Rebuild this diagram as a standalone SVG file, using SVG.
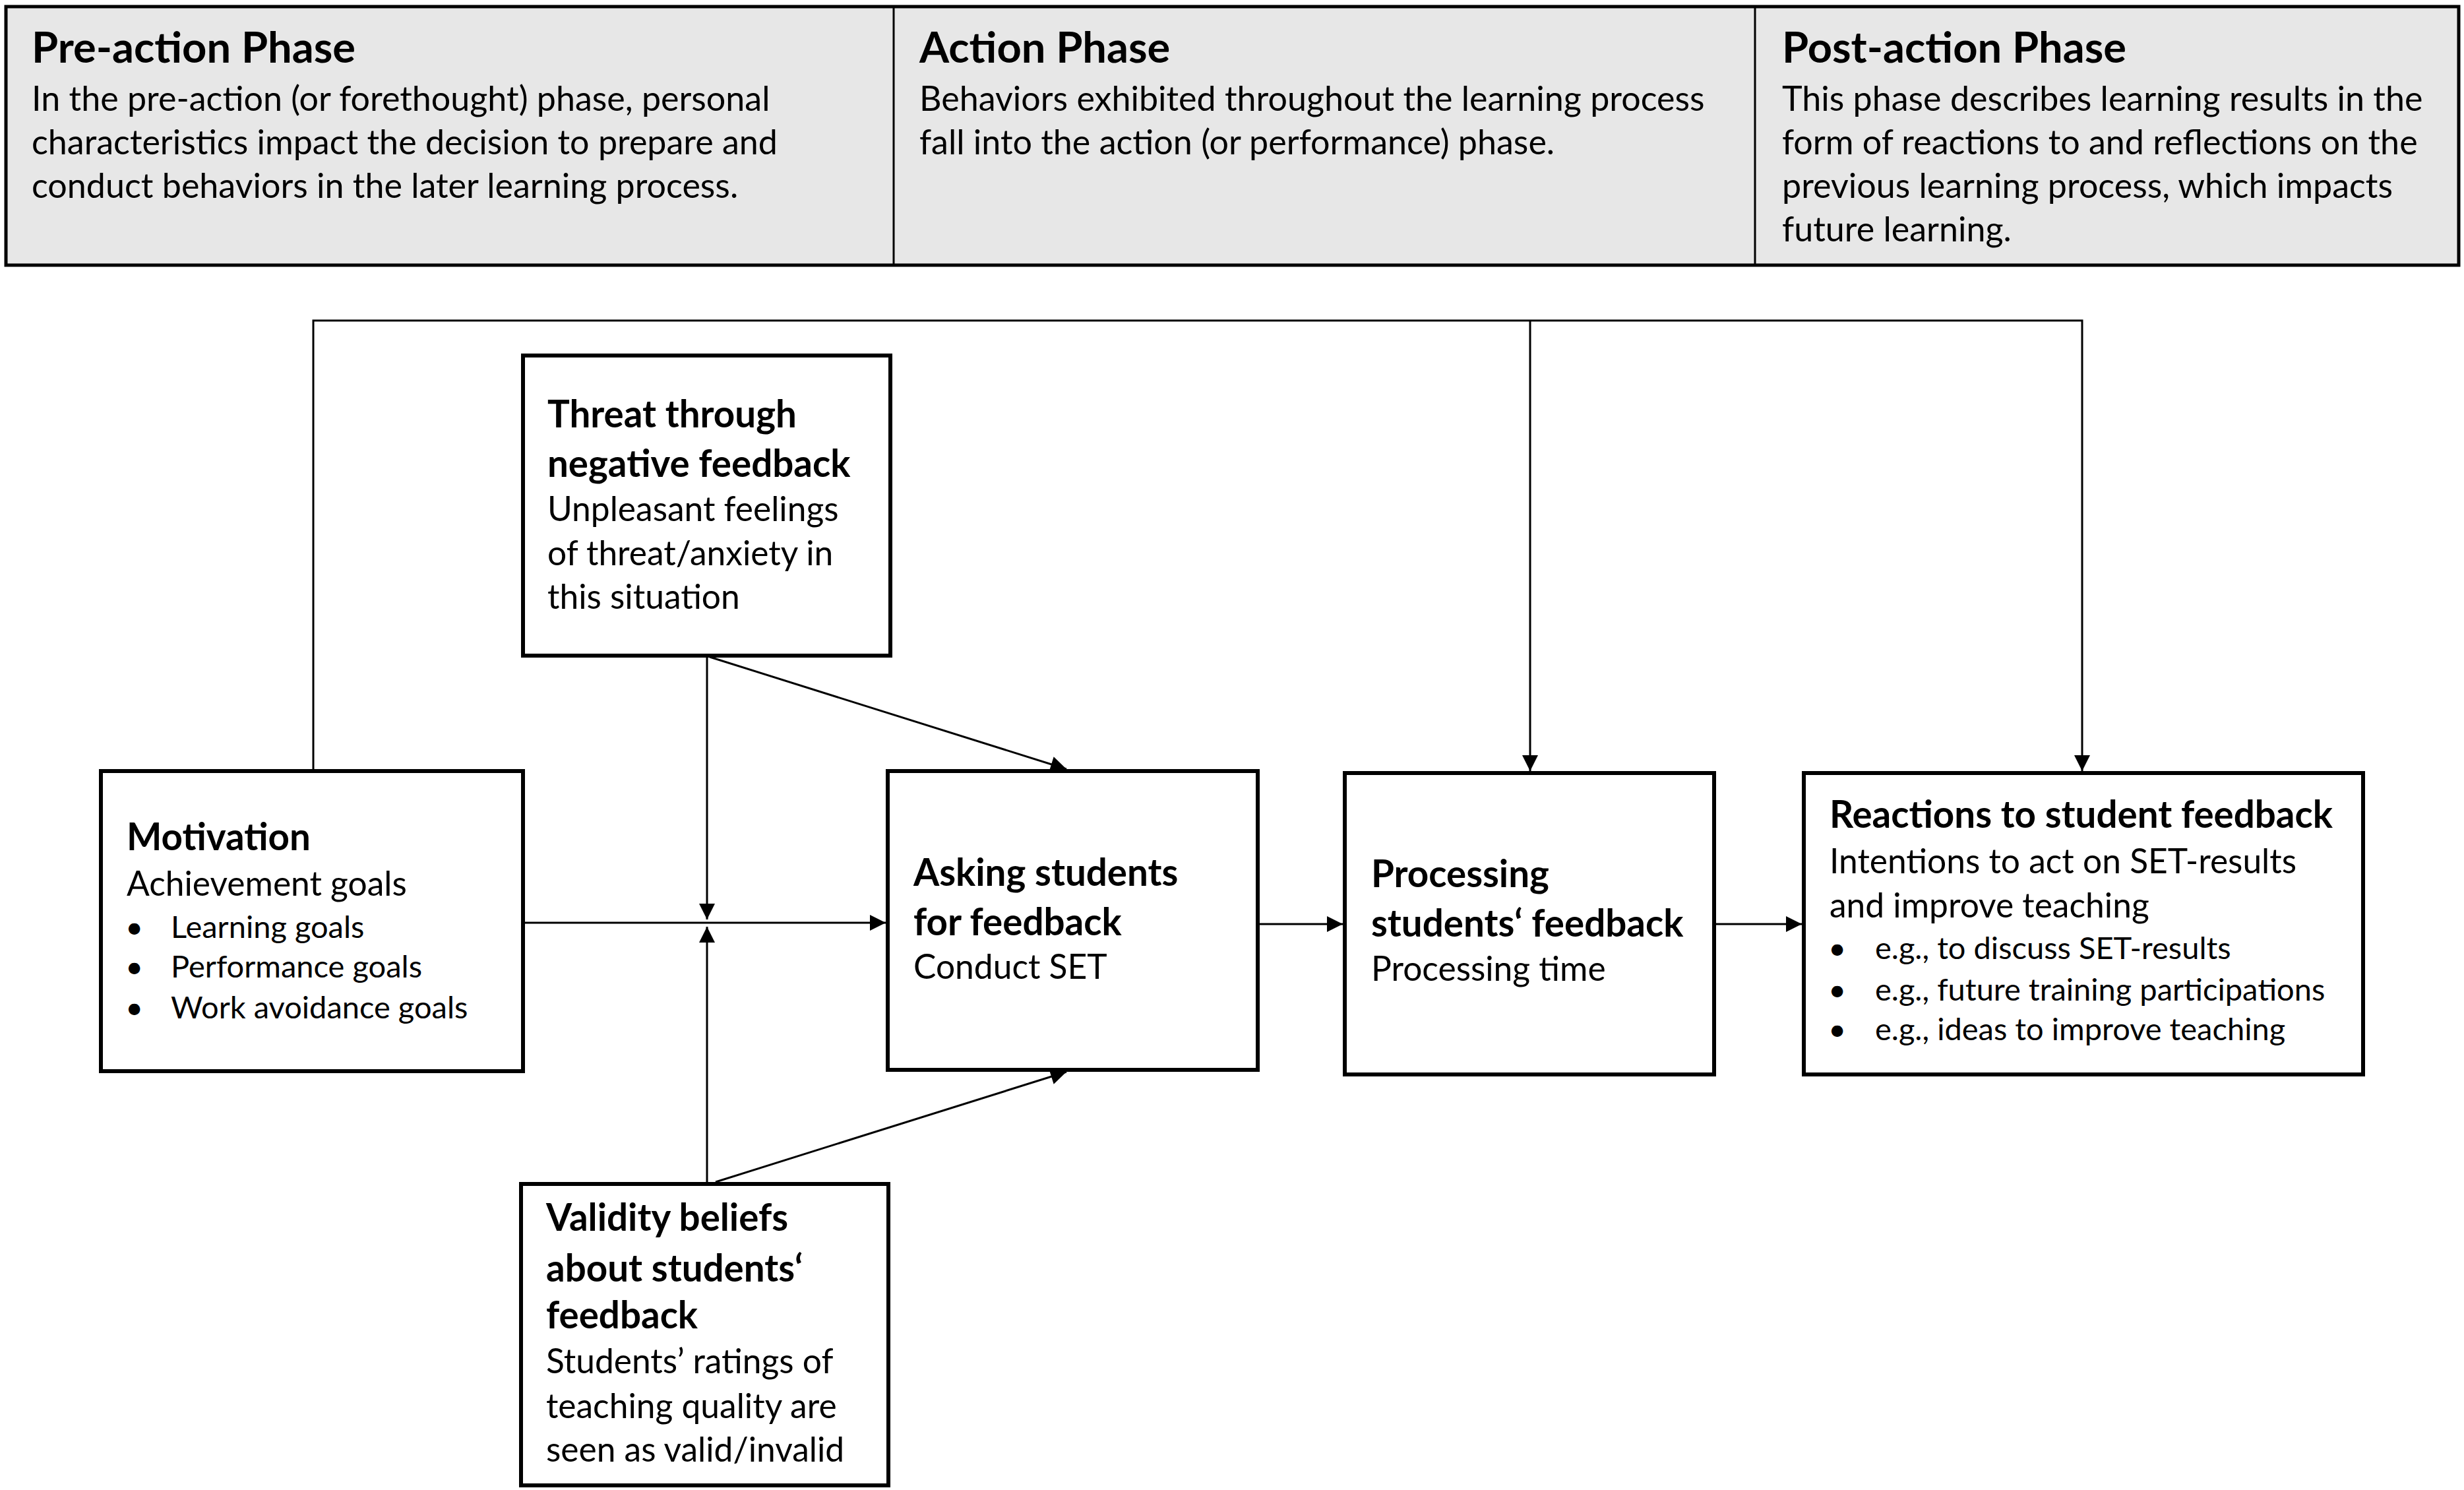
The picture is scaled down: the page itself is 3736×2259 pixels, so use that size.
<svg xmlns="http://www.w3.org/2000/svg" width="3736" height="2259" viewBox="0 0 3736 2259">
<style>
text { font-family: Lato, "Carlito", "Open Sans", sans-serif; fill: #000; }
.hh { font-size: 65px; font-weight: bold; }
.hb { font-size: 52px; }
.nt { font-size: 56.5px; font-weight: bold; }
.nb { font-size: 51.5px; }
.bl { font-size: 47px; }
.box { fill: #fff; stroke: #000; stroke-width: 6; }
.conn { fill: none; stroke: #000; stroke-width: 3; }
</style>
<defs>
<marker id="arr" viewBox="0 0 10 10" refX="10" refY="5" markerUnits="userSpaceOnUse" markerWidth="28" markerHeight="24" orient="auto">
<path d="M0,0 L10,5 L0,10 z" fill="#000"/>
</marker>
</defs>
<rect width="3736" height="2259" fill="#fff"/>
<g id="header">
<rect x="9" y="10" width="3719" height="392" fill="#e7e7e7" stroke="#000" stroke-width="5"/>
<line x1="1355" y1="10" x2="1355" y2="402" stroke="#000" stroke-width="3"/>
<line x1="2661" y1="10" x2="2661" y2="402" stroke="#000" stroke-width="3"/>
<text class="hh" x="48" y="95">Pre-action Phase</text>
<text class="hb" x="48" y="168">In the pre-action (or forethought) phase, personal</text>
<text class="hb" x="48" y="234">characteristics impact the decision to prepare and</text>
<text class="hb" x="48" y="300">conduct behaviors in the later learning process.</text>
<text class="hh" x="1394" y="95">Action Phase</text>
<text class="hb" x="1394" y="168">Behaviors exhibited throughout the learning process</text>
<text class="hb" x="1394" y="234">fall into the action (or performance) phase.</text>
<text class="hh" x="2702" y="95">Post-action Phase</text>
<text class="hb" x="2702" y="168">This phase describes learning results in the</text>
<text class="hb" x="2702" y="234">form of reactions to and reflections on the</text>
<text class="hb" x="2702" y="300">previous learning process, which impacts</text>
<text class="hb" x="2702" y="366">future learning.</text>
</g>
<g id="connectors">
<path class="conn" d="M475,1166 V486 H3157 V1169" marker-end="url(#arr)"/>
<path class="conn" d="M2320,486 V1169" marker-end="url(#arr)"/>
<path class="conn" d="M793,1399 H1343" marker-end="url(#arr)"/>
<path class="conn" d="M1072,994 V1394" marker-end="url(#arr)"/>
<path class="conn" d="M1072,1795 V1405" marker-end="url(#arr)"/>
<path class="conn" d="M1076,996 L1617,1166" marker-end="url(#arr)"/>
<path class="conn" d="M1085,1792 L1617,1625" marker-end="url(#arr)"/>
<path class="conn" d="M1907,1401 H2036" marker-end="url(#arr)"/>
<path class="conn" d="M2599,1401 H2732" marker-end="url(#arr)"/>
</g>
<g id="threat">
<rect class="box" x="793" y="539" width="557" height="455"/>
<text class="nt" x="830" y="648">Threat through</text>
<text class="nt" x="830" y="723">negative feedback</text>
<text class="nb" x="830" y="790">Unpleasant feelings</text>
<text class="nb" x="830" y="857">of threat/anxiety in</text>
<text class="nb" x="830" y="923">this situation</text>
</g>
<g id="motivation">
<rect class="box" x="153" y="1169" width="640" height="455"/>
<text class="nt" x="192" y="1289">Motivation</text>
<text class="nb" x="192" y="1358">Achievement goals</text>
<text class="bl" x="190" y="1422">•</text><text class="bl" x="259" y="1422">Learning goals</text>
<text class="bl" x="190" y="1482">•</text><text class="bl" x="259" y="1482">Performance goals</text>
<text class="bl" x="190" y="1544">•</text><text class="bl" x="259" y="1544">Work avoidance goals</text>
</g>
<g id="asking">
<rect class="box" x="1346" y="1169" width="561" height="453"/>
<text class="nt" x="1385" y="1343">Asking students</text>
<text class="nt" x="1385" y="1418">for feedback</text>
<text class="nb" x="1385" y="1484">Conduct SET</text>
</g>
<g id="processing">
<rect class="box" x="2039" y="1172" width="560" height="457"/>
<text class="nt" x="2079" y="1345">Processing</text>
<text class="nt" x="2079" y="1420">students‘ feedback</text>
<text class="nb" x="2079" y="1487">Processing time</text>
</g>
<g id="reactions">
<rect class="box" x="2735" y="1172" width="848" height="457"/>
<text class="nt" x="2774" y="1255">Reactions to student feedback</text>
<text class="nb" x="2774" y="1324">Intentions to act on SET-results</text>
<text class="nb" x="2774" y="1391">and improve teaching</text>
<text class="bl" x="2772" y="1454">•</text><text class="bl" x="2843" y="1454">e.g., to discuss SET-results</text>
<text class="bl" x="2772" y="1517">•</text><text class="bl" x="2843" y="1517">e.g., future training participations</text>
<text class="bl" x="2772" y="1577">•</text><text class="bl" x="2843" y="1577">e.g., ideas to improve teaching</text>
</g>
<g id="validity">
<rect class="box" x="790" y="1795" width="557" height="457"/>
<text class="nt" x="828" y="1866">Validity beliefs</text>
<text class="nt" x="828" y="1943">about students‘</text>
<text class="nt" x="828" y="2014">feedback</text>
<text class="nb" x="828" y="2082">Students’ ratings of</text>
<text class="nb" x="828" y="2150">teaching quality are</text>
<text class="nb" x="828" y="2216">seen as valid/invalid</text>
</g>
</svg>
